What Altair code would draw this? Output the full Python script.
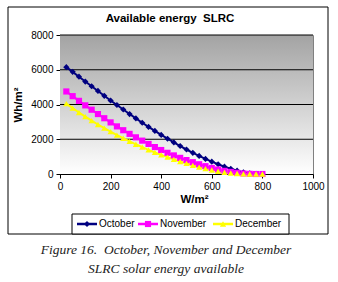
import altair as alt
import pandas as pd

irradiance = [25, 50, 75, 100, 125, 150, 175, 200, 225, 250, 275, 300, 325, 350, 375, 400,
              425, 450, 475, 500, 525, 550, 575, 600, 625, 650, 675, 700, 725, 750, 775, 800]
october = [6150, 5880, 5600, 5320, 5050, 4780, 4500, 4230, 3970, 3710, 3450, 3200, 2950, 2710, 2480, 2250,
           2030, 1820, 1610, 1410, 1220, 1040, 870, 710, 560, 420, 300, 190, 100, 40, 10, 0]
november = [4750, 4480, 4210, 3950, 3700, 3450, 3210, 2970, 2740, 2520, 2310, 2110, 1920, 1730, 1550, 1380,
            1220, 1070, 930, 800, 680, 560, 450, 350, 260, 180, 120, 70, 30, 10, 0, 0]
december = [4050, 3790, 3540, 3300, 3070, 2850, 2640, 2440, 2240, 2060, 1880, 1710, 1550, 1390, 1240, 1100,
            970, 840, 720, 610, 500, 400, 310, 230, 160, 100, 60, 30, 10, 0, 0, 0]

series_names = ["October", "November", "December"]
series_colors = ["#000080", "#FF00FF", "#FFFF00"]
series_shapes = ["diamond", "square", "triangle-up"]
series_values = [october, november, december]

title_text = "Available energy\u00a0\u00a0SLRC"
x_title = "W/m²"
y_title = "Wh/m²"
caption_lines = ["Figure 16.\u00a0\u00a0October, November and December", "SLRC solar energy available"]
x_ticks = [0, 200, 400, 600, 800, 1000]
y_ticks = [0, 2000, 4000, 6000, 8000]

rows = []
for name, vals in zip(series_names, series_values):
    for xv, yv in zip(irradiance, vals):
        rows.append({"series": name, "x": xv, "y": yv})
df = pd.DataFrame(rows)

W, H = 253, 139
FONT = "Liberation Sans"

color_scale = alt.Scale(domain=series_names, range=series_colors)
shape_scale = alt.Scale(domain=series_names, range=series_shapes)
xs = alt.X("x:Q", scale=alt.Scale(domain=[0, 1000], nice=False),
           axis=alt.Axis(values=x_ticks, format="d", title=x_title, grid=False, domainColor="black",
                         tickColor="black", tickSize=4, labelFont=FONT, labelFontSize=10,
                         labelColor="black", labelPadding=3, labelOverlap=False, labelFlush=False,
                         titleFont=FONT, titleFontSize=11.5,
                         titleFontWeight="bold", titleColor="black", titlePadding=2, titleX=134))
ys = alt.Y("y:Q", scale=alt.Scale(domain=[0, 8000], nice=False),
           axis=alt.Axis(values=y_ticks, format="d", title=y_title, grid=False,
                         domainColor="black", tickColor="black", tickSize=4,
                         labelFont=FONT, labelFontSize=10, labelColor="black", labelPadding=3,
                         labelOverlap=False, labelFlush=False,
                         titleFont=FONT, titleFontSize=11.5, titleFontWeight="bold",
                         titleColor="black", titlePadding=7))

bg = alt.Chart(pd.DataFrame({"a": [0]})).mark_rect(
    color=alt.LinearGradient(gradient="linear", x1=0, x2=0, y1=0, y2=1,
                             stops=[alt.GradientStop(color="#a3a3a3", offset=0),
                                    alt.GradientStop(color="#ffffff", offset=1)])
).encode(x=alt.value(0), x2=alt.value(W), y=alt.value(0), y2=alt.value(H))

grid = alt.Chart(pd.DataFrame({"y": y_ticks[1:]})).mark_rule(color="black", strokeWidth=1).encode(
    y=ys, x=alt.value(0), x2=alt.value(W))
lines = alt.Chart(df).mark_line(strokeWidth=2).encode(
    x=xs, y=ys,
    color=alt.Color("series:N", scale=color_scale, legend=None),
    detail="series:N",
)
points = alt.Chart(df).mark_point(filled=True, size=38, opacity=1).encode(
    x=xs, y=ys,
    color=alt.Color("series:N", scale=color_scale, legend=None),
    shape=alt.Shape("series:N", scale=shape_scale, legend=None),
)

layers = [bg, grid, lines, points]

# Chart title and caption
layers.append(alt.Chart(pd.DataFrame({"t": [title_text]})).mark_text(
    font=FONT, fontSize=11.5, fontWeight="bold", color="black", baseline="middle", align="center"
).encode(text="t:N", x=alt.value(110), y=alt.value(-16)))
for i, line in enumerate(caption_lines):
    layers.append(alt.Chart(pd.DataFrame({"t": [line]})).mark_text(
        font="Liberation Serif", fontSize=13.5, fontStyle="italic", color="#222222",
        baseline="middle", align="center"
    ).encode(text="t:N", x=alt.value(106), y=alt.value(215 + 19 * i)))

# Outer chart border
layers.append(alt.Chart(pd.DataFrame({"a": [0]})).mark_rect(
    fill=None, stroke="black", strokeWidth=1
).encode(x=alt.value(-52), x2=alt.value(268), y=alt.value(-28), y2=alt.value(199)))

# Legend box
layers.append(alt.Chart(pd.DataFrame({"a": [0]})).mark_rect(
    fill="white", stroke="black", strokeWidth=1
).encode(x=alt.value(12), x2=alt.value(229), y=alt.value(179), y2=alt.value(199)))
leg_x = [17, 78, 153]
for name, col, shp, lx in zip(series_names, series_colors, series_shapes, leg_x):
    layers.append(alt.Chart(pd.DataFrame({"a": [0]})).mark_rule(color=col, strokeWidth=2.5).encode(
        x=alt.value(lx), x2=alt.value(lx + 20), y=alt.value(189)))
    layers.append(alt.Chart(pd.DataFrame({"a": [0]})).mark_point(
        filled=True, color=col, shape=shp, size=38, opacity=1).encode(
        x=alt.value(lx + 10), y=alt.value(189)))
    layers.append(alt.Chart(pd.DataFrame({"t": [name]})).mark_text(
        font=FONT, fontSize=10, color="black", align="left", baseline="middle").encode(
        text="t:N", x=alt.value(lx + 22), y=alt.value(189)))

chart = alt.layer(*layers).properties(
    width=W, height=H,
    autosize=alt.AutoSizeParams(type="none"),
    padding={"left": 60, "top": 35, "right": 25, "bottom": 108},
    background="white",
).configure_view(stroke="#808080", strokeWidth=1)

chart.save("out.html", embed_options={"renderer": "svg", "actions": False})
